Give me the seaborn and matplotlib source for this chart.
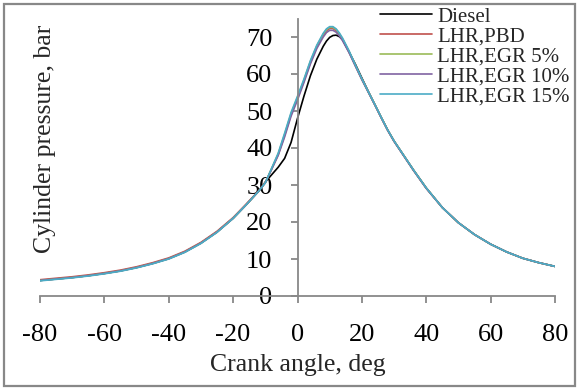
import numpy as np
import pandas as pd
import matplotlib
matplotlib.use("Agg")
import matplotlib.pyplot as plt
from matplotlib.patches import Rectangle
import seaborn as sns

# ---------------- data ----------------
angle = [-80, -75, -70, -65, -60, -55, -50, -45, -40, -35, -30, -25, -20, -16, -12, -10,
         -8, -6, -4, -2, 0, 2, 4, 6, 8, 9, 10, 11, 12, 13, 14, 16, 18, 20, 22, 24, 26, 28, 30, 32,
         36, 40, 45, 50, 55, 60, 65, 70, 75, 80]

diesel = [4.2, 4.6, 5.0, 5.5, 6.1, 6.8, 7.7, 8.8, 10.1, 11.9, 14.3, 17.3, 21.0, 24.6, 28.4, 30.8,
          32.8, 34.8, 37.2, 41.5, 48.0, 54.0, 59.5, 64.0, 67.5, 68.9, 69.9, 70.4, 70.5, 70.1, 69.3,
          66.0, 62.6, 58.9, 55.3, 51.8, 48.3, 44.9, 41.9, 39.3,
          34.1, 29.2, 23.9, 19.8, 16.6, 14.0, 11.9, 10.2, 9.0, 8.0]

lhr_pbd = [4.4, 4.8, 5.2, 5.7, 6.3, 7.0, 7.9, 9.0, 10.3, 12.1, 14.5, 17.5, 21.2, 24.8, 28.5, 30.7,
           34.4, 38.2, 43.4, 49.0, 53.4, 58.1, 63.1, 67.3, 70.5, 71.7, 72.3, 72.3, 71.7, 70.7, 69.3,
           66.0, 62.2, 58.5, 55.1, 51.7, 48.2, 44.8, 41.8, 39.2,
           34.0, 29.1, 23.9, 19.8, 16.6, 14.0, 11.9, 10.2, 9.0, 8.0]

lhr_egr5 = [4.2, 4.6, 5.0, 5.5, 6.1, 6.8, 7.7, 8.8, 10.1, 11.9, 14.3, 17.3, 21.0, 24.6, 28.4, 30.6,
            34.5, 38.4, 43.7, 49.3, 53.7, 58.4, 63.4, 67.6, 70.8, 72.0, 72.6, 72.6, 72.0, 70.9, 69.5,
            66.1, 62.3, 58.6, 55.2, 51.8, 48.3, 44.9, 41.9, 39.3,
            34.1, 29.2, 23.9, 19.8, 16.6, 14.0, 11.9, 10.2, 9.0, 8.0]

lhr_egr10 = [4.2, 4.6, 5.0, 5.5, 6.1, 6.8, 7.7, 8.8, 10.1, 11.9, 14.3, 17.3, 21.0, 24.6, 28.4, 30.6,
             34.3, 38.0, 43.0, 48.6, 53.0, 57.7, 62.7, 66.9, 70.0, 71.2, 71.8, 71.8, 71.3, 70.3, 69.0,
             65.8, 62.1, 58.5, 55.1, 51.7, 48.2, 44.8, 41.8, 39.2,
             34.0, 29.1, 23.9, 19.8, 16.6, 14.0, 11.9, 10.2, 9.0, 8.0]

lhr_egr15 = [4.1, 4.5, 4.9, 5.4, 6.0, 6.7, 7.6, 8.7, 10.0, 11.8, 14.2, 17.2, 21.0, 24.6, 28.4, 30.6,
             34.6, 38.6, 44.0, 49.6, 54.0, 58.6, 63.6, 67.8, 71.0, 72.2, 72.8, 72.8, 72.2, 71.1, 69.7,
             66.3, 62.4, 58.7, 55.2, 51.8, 48.3, 44.9, 41.9, 39.3,
             34.1, 29.2, 23.9, 19.8, 16.6, 14.0, 11.9, 10.2, 9.0, 8.0]

series_names = ["Diesel", "LHR,PBD", "LHR,EGR 5%", "LHR,EGR 10%", "LHR,EGR 15%"]
series_values = [diesel, lhr_pbd, lhr_egr5, lhr_egr10, lhr_egr15]
series_colors = ["#000000", "#C0504D", "#9BBB59", "#8064A2", "#4BACC6"]

x_ticks = [-80, -60, -40, -20, 0, 20, 40, 60, 80]
x_tick_labels = ["-80", "-60", "-40", "-20", "0", "20", "40", "60", "80"]
y_ticks = [0, 10, 20, 30, 40, 50, 60, 70]
y_tick_labels = ["0", "10", "20", "30", "40", "50", "60", "70"]

# ---------------- build long table ----------------
frames = []
for name, vals in zip(series_names, series_values):
    frames.append(pd.DataFrame({"angle": angle, "pressure": vals, "series": name}))
df = pd.concat(frames, ignore_index=True)

# ---------------- style ----------------
sns.set_theme(style="white")
plt.rcParams["font.family"] = ["Liberation Serif", "DejaVu Serif"]
plt.rcParams["axes.unicode_minus"] = False

W, H = 579, 390
fig = plt.figure(figsize=(W / 100, H / 100), dpi=100)

x_left, x_right = 40, 555
y_zero, y_top = 296, 18.5
ax = fig.add_axes([x_left / W, 1 - y_zero / H, (x_right - x_left) / W, (y_zero - y_top) / H])

sns.lineplot(data=df, x="angle", y="pressure", hue="series", hue_order=series_names,
             palette=dict(zip(series_names, series_colors)), linewidth=1.2,
             sort=False, estimator=None, ax=ax, legend=False)

ax.set_xlim(-80, 80)
ax.set_ylim(0, 75)

grey = "#888888"
for s in ["top", "right"]:
    ax.spines[s].set_visible(False)
ax.spines["left"].set_position(("data", 0))
ax.spines["left"].set_color(grey)
ax.spines["bottom"].set_color(grey)
ax.spines["left"].set_linewidth(1.3)
ax.spines["bottom"].set_linewidth(1.3)
ax.patch.set_alpha(0)

ax.set_xticks(x_ticks)
ax.set_xticklabels(x_tick_labels)
ax.set_yticks(y_ticks)
ax.set_yticklabels(y_tick_labels)
ax.tick_params(axis="x", direction="out", length=5, width=1.3, color=grey,
               pad=15, labelsize=19, labelcolor="black", bottom=True)
ax.tick_params(axis="y", direction="out", length=5, width=1.3, color=grey,
               pad=13, labelsize=19, labelcolor="black", left=True)

ax.set_xlabel("Crank angle, deg", fontsize=18.5, labelpad=6)
ax.set_ylabel("Cylinder pressure, bar", fontsize=18.5)
ax.yaxis.set_label_coords((56 - x_left) / (x_right - x_left), 0.565)

# legend
handles = [plt.Line2D([], [], color=c, lw=1.2) for c in series_colors]
fig.legend(handles, series_names, loc="upper left",
           bbox_to_anchor=(380 / W, 1 - 7 / H), frameon=False, fontsize=15,
           handlelength=2.5, handletextpad=0.25, labelspacing=0.02,
           borderpad=0, borderaxespad=0)

# outer chart border
fig.patches.append(Rectangle((3.5 / W, 4 / H), (575 - 3.5) / W, (386 - 4) / H,
                             transform=fig.transFigure, fill=False,
                             edgecolor=grey, linewidth=1.6))

fig.savefig("out.png", dpi=100)
